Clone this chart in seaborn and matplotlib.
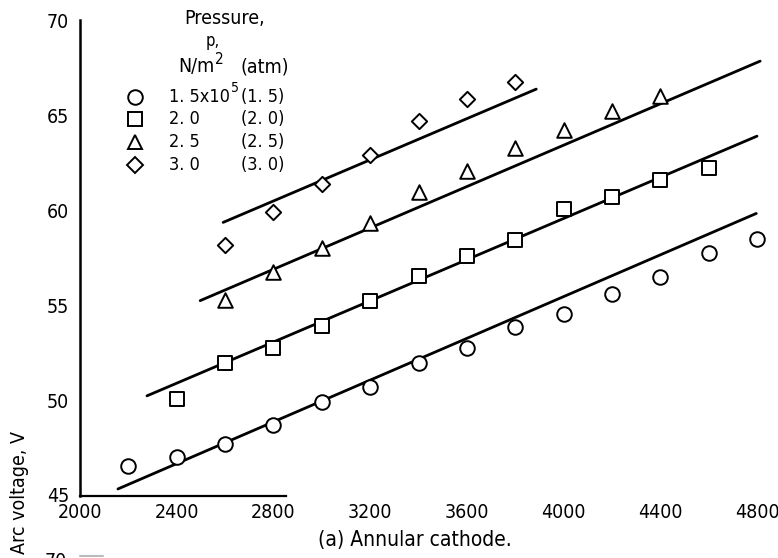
import matplotlib
matplotlib.use("Agg")
import matplotlib.pyplot as plt
import seaborn as sns
from matplotlib.lines import Line2D
from matplotlib import font_manager as fm
from matplotlib.transforms import ScaledTranslation

# ---------------- data ----------------
circle_x = [2200, 2400, 2600, 2800, 3000, 3200, 3400, 3600, 3800, 4000, 4200, 4400, 4600, 4800]
circle_v = [46.6, 47.05, 47.75, 48.75, 49.95, 50.7, 52.0, 52.75, 53.85, 54.55, 55.6, 56.5, 57.75, 58.5]

square_x = [2400, 2600, 2800, 3000, 3200, 3400, 3600, 3800, 4000, 4200, 4400, 4600]
square_v = [50.1, 52.0, 52.75, 53.95, 55.25, 56.55, 57.6, 58.45, 60.05, 60.7, 61.6, 62.25]

triangle_x = [2600, 2800, 3000, 3200, 3400, 3600, 3800, 4000, 4200, 4400]
triangle_v = [55.3, 56.75, 58.0, 59.35, 60.95, 62.05, 63.3, 64.2, 65.2, 66.0]

diamond_x = [2600, 2800, 3000, 3200, 3400, 3600, 3800]
diamond_v = [58.2, 59.9, 61.4, 62.9, 64.7, 65.85, 66.75]

# fitted straight lines: (x start, x end), (V start, V end)
line_circle_x = [2157, 4797]
line_circle_v = [45.37, 59.84]
line_square_x = [2277, 4800]
line_square_v = [50.26, 63.9]
line_triangle_x = [2497, 4813]
line_triangle_v = [55.26, 67.84]
line_diamond_x = [2592, 3887]
line_diamond_v = [59.37, 66.37]

pressure_nm = ["1. 5x10", "2. 0", "2. 5", "3. 0"]
pressure_atm = ["(1. 5)", "(2. 0)", "(2. 5)", "(3. 0)"]

x_ticks = [2000, 2400, 2800, 3200, 3600, 4000, 4400, 4800]
y_ticks = [45, 50, 55, 60, 65, 70]

# ---------------- style ----------------
sns.set_theme(style="white")

names = {f.name for f in fm.fontManager.ttflist}
cond_files = [f for f in fm.fontManager.ttflist
              if f.name == "DejaVu Sans" and "Condensed" in f.fname and "Bold" not in f.fname
              and "Oblique" not in f.fname]
if "Liberation Sans Narrow" in names:
    FP = fm.FontProperties(family="Liberation Sans Narrow")
elif cond_files:
    FP = fm.FontProperties(fname=cond_files[0].fname)
else:
    FP = fm.FontProperties(family="DejaVu Sans", stretch="condensed")
plt.rcParams["font.family"] = ["DejaVu Sans"]
plt.rcParams["text.color"] = "black"

def fp(size):
    p = FP.copy()
    p.set_size(size)
    return p

W, H = 778, 558
fig = plt.figure(figsize=(W / 100, H / 100), dpi=100)
fig.patch.set_facecolor("white")

x0, x1 = 2000, 4860
left_px, bottom_px = 80, 496
scale = (757 - 80) / 2800.0
ax_w_px = (x1 - x0) * scale
ax_h_px = 496 - 20
ax = fig.add_axes([left_px / W, 1 - bottom_px / H, ax_w_px / W, ax_h_px / H])
ax.set_facecolor("white")

series = [
    ("o", circle_x, circle_v, line_circle_x, line_circle_v, 10.5),
    ("s", square_x, square_v, line_square_x, line_square_v, 9.5),
    ("^", triangle_x, triangle_v, line_triangle_x, line_triangle_v, 10.5),
    ("D", diamond_x, diamond_v, line_diamond_x, line_diamond_v, 7.8),
]

for mk, xs, vs, lx, lv, ms in series:
    sns.lineplot(x=lx, y=lv, ax=ax, color="black", lw=2.0, zorder=2)
    sns.scatterplot(x=xs, y=vs, ax=ax, marker=mk, s=ms ** 2, facecolor="white",
                    edgecolor="black", linewidth=1.4, zorder=3)

ax.set_xlim(x0, x1)
ax.set_ylim(45, 70)
ax.set_xticks(x_ticks)
ax.set_yticks(y_ticks)
ax.set_xticklabels([str(t) for t in x_ticks], fontproperties=fp(14), color="black")
ax.set_yticklabels([str(t) for t in y_ticks], fontproperties=fp(14), color="black")
ax.tick_params(axis="y", direction="in", length=16, width=1.5, pad=8, color="black")
ax.tick_params(axis="x", direction="in", length=16, width=1.3, pad=5, color="black")
ax.yaxis.get_major_ticks()[0].tick1line.set_visible(False)
ax.xaxis.get_major_ticks()[0].tick1line.set_visible(False)
# lift the lowest y label by a couple of pixels, as in the reference
lab45 = ax.yaxis.get_major_ticks()[0].label1
lab45.set_transform(lab45.get_transform() + ScaledTranslation(0, 2 / 100, fig.dpi_scale_trans))

for s in ["top", "right"]:
    ax.spines[s].set_visible(False)
ax.spines["left"].set_color("black")
ax.spines["left"].set_linewidth(1.8)
ax.spines["bottom"].set_color("black")
ax.spines["bottom"].set_linewidth(1.6)
ax.spines["bottom"].set_bounds(2000, 2850)
ax.set_xlabel("")
ax.set_ylabel("")

# axis titles
fig.text(20 / W, 1 - 492 / H, "Arc voltage, V", rotation=90, ha="center", va="center",
         fontproperties=fp(14))
fig.text(415 / W, 1 - 540 / H, "(a) Annular cathode.", ha="center", va="center",
         fontproperties=fp(15))

# legend block
def fx(px):
    return px / W

def fy(py):
    return 1 - py / H

renderer = fig.canvas.get_renderer()

def sup_after(t, s, dy, size=11):
    bb = t.get_window_extent(renderer)
    xr = bb.x1 + 1
    fig.text(xr / W, fy(dy), s, ha="left", va="center", fontproperties=fp(size))

fig.text(fx(225), fy(18), "Pressure,", ha="center", va="center", fontproperties=fp(14))
fig.text(fx(213), fy(41), "p,", ha="center", va="center", fontproperties=fp(12))
t_nm = fig.text(fx(178), fy(67), "N/m", ha="left", va="center", fontproperties=fp(14))
sup_after(t_nm, "2", 59)
fig.text(fx(240), fy(67), "(atm)", ha="left", va="center", fontproperties=fp(14))

row_y = [97, 119, 142, 165]
markers = ["o", "s", "^", "D"]
msizes = [10.5, 9.5, 10.5, 7.8]
for i, (lab, atm) in enumerate(zip(pressure_nm, pressure_atm)):
    fig.add_artist(Line2D([fx(135)], [fy(row_y[i])], marker=markers[i], markersize=msizes[i],
                          markerfacecolor="white", markeredgecolor="black",
                          markeredgewidth=1.4, linestyle="none", transform=fig.transFigure))
    t = fig.text(fx(169), fy(row_y[i]), lab, ha="left", va="center", fontproperties=fp(13))
    if i == 0:
        sup_after(t, "5", 88, size=10)
    fig.text(fx(241), fy(row_y[i]), atm, ha="left", va="center", fontproperties=fp(13))

# start of the next panel, cut off at the bottom edge
fig.text(fx(67), fy(552), "70", ha="right", va="top", fontproperties=fp(14))
fig.add_artist(Line2D([fx(80), fx(103)], [fy(556), fy(556)], color="#bbbbbb", lw=1.5,
                      transform=fig.transFigure))

fig.savefig("out.png", dpi=100, facecolor="white")
